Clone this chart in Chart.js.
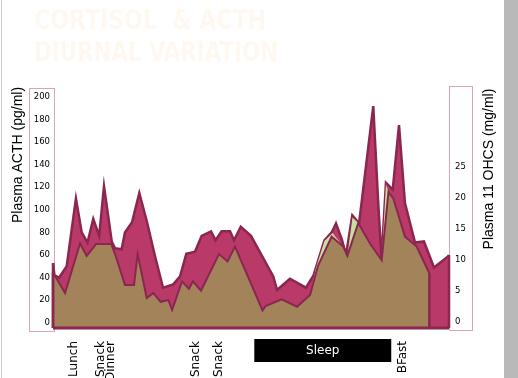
<!DOCTYPE html>
<html>
<head>
<meta charset="utf-8">
<script src="https://cdn.jsdelivr.net/npm/chart.js@4/dist/chart.umd.min.js"></script>
<style>
  html, body { margin: 0; padding: 0; background: #fff; }
  canvas { display: block; }
</style>
</head>
<body>
<canvas id="chart" width="518" height="378"></canvas>
<script>
// hours from the start of the day shown (noon-ish) to the next morning
const acthHours = [0, 0.09, 0.38, 0.83, 1.39, 1.74, 2.09, 2.44, 2.80, 3.09, 3.56, 3.76, 4.16, 4.36, 4.79,
  5.23, 5.70, 6.18, 6.67, 7.29, 7.70, 8.08, 8.61, 9.01, 9.58, 9.85, 10.22, 10.73, 10.97, 11.38,
  12.0, 13.35, 13.58, 14.36, 15.33, 15.79, 16.45, 16.89, 17.15, 17.50, 17.76, 18.14, 18.55, 19.41, 19.70,
  19.91, 20.18, 20.59, 20.97, 21.33, 21.94, 22.48, 23.09, 23.96, 24];
const acthValues = [53, 42, 40, 50, 110, 80, 71, 92, 77, 121, 72, 66, 65, 80, 89,
  115, 89, 59, 31, 34, 41, 61, 63, 77, 81, 73, 81, 81, 73, 85,
  77, 41, 29, 39, 31, 42, 73, 80, 88, 74, 60, 95, 88, 192, 109,
  56, 124, 118, 175, 106, 71, 72, 49, 59, 60];

const cortHours = [0, 0.73, 1.64, 2.04, 2.61, 3.54, 3.86, 4.36, 4.91, 5.13, 5.68, 6.08, 6.53, 6.99, 7.22,
  7.82, 8.24, 8.48, 8.97, 10.06, 10.58, 11.03, 12.70, 12.88, 13.86, 14.79, 15.58, 16.06, 16.89, 17.59,
  17.84, 18.50, 19.21, 19.92, 20.33, 20.62, 21.33, 22.04, 22.81];
const cortValues = [8.0, 4.7, 12.7, 10.7, 12.6, 12.6, 10.2, 6.0, 6.0, 11.0, 3.9, 4.7, 3.3, 3.6, 2.0,
  6.6, 5.4, 6.6, 5.1, 11.0, 9.8, 12.2, 1.9, 2.6, 3.7, 2.5, 4.4, 9.1, 13.8, 12.2,
  10.7, 16.0, 12.7, 10.0, 21.0, 20.0, 13.8, 12.2, 7.9];

// light green edge showing on the rising sides of the night peaks
const glowHours = [15.58, 15.94, 16.45, 16.94, 17.59, 17.84, 18.15, 18.50, 19.21, 19.92, 20.18, 20.33];
const glowValues = [4.4, 8.8, 13.1, 14.4, 12.2, 10.7, 16.9, 16.0, 12.7, 10.0, 22.3, 21.0];

const eventHours = [1.27, 2.88, 3.48, 8.67, 10.04, 21.21];
const eventNames = ['Lunch', 'Snack', 'Dinner', 'Snack', 'Snack', 'BFast'];

const acthTicks = [0, 20, 40, 60, 80, 100, 120, 140, 160, 180, 200];
const cortTicks = [0, 5, 10, 15, 20, 25];

const toPoints = (xs, ys) => xs.map((x, i) => ({ x: x, y: ys[i] }));

const EDGE = '#8a2650';

const decor = {
  id: 'decor',
  beforeDraw(chart) {
    const ctx = chart.ctx;
    ctx.save();
    ctx.fillStyle = '#fff';
    ctx.fillRect(0, 0, 518, 378);
    // slide frame bits
    ctx.fillStyle = '#cccccc';
    ctx.fillRect(1, 0, 1, 378);
    ctx.fillStyle = '#b9b9b9';
    ctx.fillRect(504, 0, 14, 378);
    // nearly invisible slide title
    ctx.fillStyle = '#fff8f0';
    ctx.font = 'bold 27px "DejaVu Sans"';
    ctx.textBaseline = 'alphabetic';
    ctx.fillText('CORTISOL  & ACTH', 34, 29, 232);
    ctx.fillText('DIURNAL VARIATION', 34, 61, 244);
    // boxes round the two value axes
    ctx.strokeStyle = '#d8a5b9';
    ctx.lineWidth = 1;
    ctx.strokeRect(29.5, 88.5, 25, 243);
    ctx.strokeRect(449.5, 86.5, 23, 244);
    ctx.restore();
  },
  afterDatasetsDraw(chart) {
    const ctx = chart.ctx;
    const area = chart.chartArea;
    ctx.save();
    ctx.strokeStyle = EDGE;
    ctx.lineWidth = 2.5;
    [0, 2].forEach((i) => {
      const pts = chart.getDatasetMeta(i).data;
      const first = pts[0], last = pts[pts.length - 1];
      ctx.beginPath();
      ctx.moveTo(first.x, first.y);
      ctx.lineTo(first.x, area.bottom);
      ctx.moveTo(last.x, last.y);
      ctx.lineTo(last.x, area.bottom);
      ctx.stroke();
    });
    ctx.lineWidth = 3;
    ctx.beginPath();
    ctx.moveTo(area.left, area.bottom);
    ctx.lineTo(area.right, area.bottom);
    ctx.stroke();
    ctx.restore();
  },
  afterDraw(chart) {
    const ctx = chart.ctx;
    ctx.save();
    ctx.fillStyle = '#000';
    ctx.font = '14px "Liberation Sans"';
    ctx.textAlign = 'center';
    ctx.textBaseline = 'middle';
    ctx.translate(18, 155);
    ctx.rotate(-Math.PI / 2);
    ctx.fillText('Plasma ACTH (pg/ml)', 0, 0);
    ctx.restore();

    ctx.save();
    ctx.fillStyle = '#000';
    ctx.font = '14px "Liberation Sans"';
    ctx.textAlign = 'center';
    ctx.textBaseline = 'middle';
    ctx.translate(489, 169);
    ctx.rotate(-Math.PI / 2);
    ctx.fillText('Plasma 11 OHCS (mg/ml)', 0, 0);
    ctx.restore();

    // sleep period bar
    const x = chart.scales.x;
    const x0 = x.getPixelForValue(12.2), x1 = x.getPixelForValue(20.5);
    ctx.save();
    ctx.fillStyle = '#000';
    ctx.fillRect(x0, 339, x1 - x0, 23);
    ctx.fillStyle = '#fff';
    ctx.font = '12px "DejaVu Sans"';
    ctx.textAlign = 'center';
    ctx.textBaseline = 'middle';
    ctx.fillText('Sleep', (x0 + x1) / 2, 351);
    ctx.restore();
  }
};

new Chart(document.getElementById('chart'), {
  type: 'line',
  data: {
    datasets: [
      {
        label: 'Cortisol',
        data: toPoints(cortHours, cortValues),
        yAxisID: 'yR',
        backgroundColor: '#a3845a',
        borderColor: EDGE,
        borderWidth: 2,
        fill: 'start',
      },
      {
        label: 'glow',
        data: toPoints(glowHours, glowValues),
        yAxisID: 'yR',
        backgroundColor: '#c6e09f',
        borderWidth: 0,
        fill: 'start',
      },
      {
        label: 'ACTH',
        data: toPoints(acthHours, acthValues),
        yAxisID: 'yL',
        backgroundColor: '#b93a68',
        borderColor: EDGE,
        borderWidth: 2.5,
        fill: 'start',
      },
    ],
  },
  options: {
    responsive: false,
    animation: false,
    devicePixelRatio: 1,
    layout: { padding: { left: 29, right: 45, top: 97, bottom: 0 } },
    elements: { point: { radius: 0 }, line: { tension: 0, borderJoinStyle: 'miter' } },
    plugins: { legend: { display: false }, tooltip: { enabled: false }, title: { display: false } },
    scales: {
      x: {
        type: 'linear',
        min: 0,
        max: 24,
        grid: { display: false, drawTicks: false },
        border: { display: false },
        afterBuildTicks: (s) => { s.ticks = eventHours.map((v) => ({ value: v })); },
        afterFit: (s) => { s.height = 50; },
        ticks: {
          autoSkip: false,
          minRotation: 90,
          maxRotation: 90,
          padding: 13,
          color: '#000',
          font: { family: '"DejaVu Sans"', size: 12 },
          callback: (v, i) => eventNames[i],
        },
      },
      yL: {
        position: 'left',
        min: -4.7,
        max: 200,
        grid: { display: false, drawTicks: false },
        border: { display: false },
        afterBuildTicks: (s) => { s.ticks = acthTicks.map((v) => ({ value: v })); },
        afterFit: (s) => { s.width = 24; },
        ticks: { padding: 3, color: '#000', font: { family: '"DejaVu Sans"', size: 8.5 } },
      },
      yR: {
        position: 'right',
        min: -0.92,
        max: 36.3,
        grid: { display: false, drawTicks: false },
        border: { display: false },
        afterBuildTicks: (s) => { s.ticks = cortTicks.map((v) => ({ value: v })); },
        afterFit: (s) => { s.width = 24; },
        ticks: { padding: 6, color: '#000', font: { family: '"DejaVu Sans"', size: 8.5 } },
      },
    },
  },
  plugins: [decor],
});
</script>
</body>
</html>
